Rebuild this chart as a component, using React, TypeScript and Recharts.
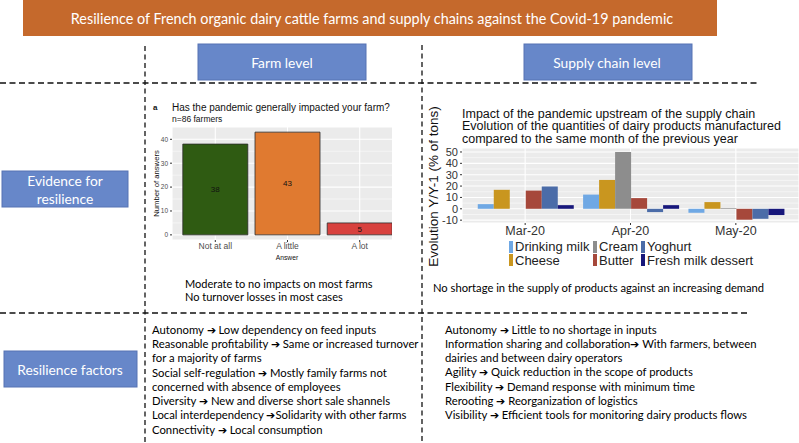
import React from 'react';
import { BarChart, Bar, XAxis, YAxis, CartesianGrid, Cell, LabelList, Legend } from 'recharts';

// ---------- Texts ----------
const mainTitle = 'Resilience of French organic dairy cattle farms and supply chains against the Covid-19 pandemic';
const farmTitle = 'Has the pandemic generally impacted your farm?';
const farmSubtitle = 'n=86 farmers';
const supplyTitleLines = [
  'Impact of the pandemic upstream of the supply chain',
  'Evolution of the quantities of dairy products manufactured',
  'compared to the same month of the previous year',
];
const farmEvidence = ['Moderate to no impacts on most farms', 'No turnover losses in most cases'];
const supplyEvidence = 'No shortage in the supply of products against an increasing demand';
const farmFactors = [
  'Autonomy \u2794 Low dependency on feed inputs',
  'Reasonable profitability \u2794 Same or increased turnover',
  'for a majority of farms',
  'Social self-regulation \u2794 Mostly family farms not',
  'concerned with absence of employees',
  'Diversity \u2794 New and diverse short sale shannels',
  'Local interdependency \u2794Solidarity with other farms',
  'Connectivity \u2794 Local consumption',
];
const supplyFactors = [
  'Autonomy \u2794 Little to no shortage in inputs',
  'Information sharing and collaboration\u2794 With farmers, between',
  'dairies and between dairy operators',
  'Agility \u2794 Quick reduction in the scope of products',
  'Flexibility \u2794 Demand response with minimum time',
  'Rerooting \u2794 Reorganization of logistics',
  'Visibility \u2794 Efficient tools for monitoring dairy products flows',
];

// ---------- Farm-level chart data ----------
const farmAnswers = ['Not at all', 'A little', 'A lot'];
const farmCounts = [38, 43, 5];
const farmYTicks = [0, 10, 20, 30, 40];
const farmYMinor = [5, 15, 25, 35];

// ---------- Supply-chain chart data ----------
const months = ['Mar-20', 'Apr-20', 'May-20'];
const drinkingMilk = [4.1, 12.5, -3.5];
const cheese = [16.7, 25.4, 5.9];
const cream = [null, 50, 0.6];
const butter = [16, 9.4, -9.6];
const yoghurt = [19.6, -2.9, -8.8];
const freshMilkDessert = [3.2, 3.2, -5.5];
const productNames = ['Drinking milk', 'Cheese', 'Cream', 'Butter', 'Yoghurt', 'Fresh milk dessert'];
const supplyYTicks = [-10, 0, 10, 20, 30, 40, 50];
const supplyYMinor = [-5, 5, 15, 25, 35, 45];

// ---------- Styles ----------
const CAL = "Lato, 'Open Sans', sans-serif";
const ARIAL = "'Liberation Sans', Arial, sans-serif";
const FARM_COLORS = ['#2f5b12', '#e07a30', '#d8413e'];
const PRODUCT_COLORS = ['#6fa8e4', '#c9961f', '#8d8d8d', '#a6483b', '#4b6ca8', '#17177b'];
const BLUE_BOX = '#6787c9';
const BLUE_BORDER = '#5673b3';
const LIST_FONT = 11.3;

const productKeys = ['drinkingMilk', 'cheese', 'cream', 'butter', 'yoghurt', 'freshMilkDessert'];
const productSeries = [drinkingMilk, cheese, cream, butter, yoghurt, freshMilkDessert];

const farmData = farmAnswers.map((a, i) => ({ answer: a, count: farmCounts[i] }));
const supplyData = months.map((m, i) => {
  const row: any = { month: m };
  productKeys.forEach((k, j) => {
    row[k] = productSeries[j][i];
  });
  return row;
});

const LEGEND_COLS = [84, 168, 216];

const SupplyLegend = (props: any) => {
  const payload = [...(props.payload || [])].sort(
    (a: any, b: any) => productNames.indexOf(a.value) - productNames.indexOf(b.value)
  );
  return (
    <div style={{ position: 'relative', width: 374, height: 28, fontFamily: ARIAL, fontSize: 13, color: '#222' }}>
      {payload.map((p: any, i: number) => {
        const col = Math.floor(i / 2);
        const row = i % 2;
        return (
          <div
            key={i}
            style={{
              position: 'absolute',
              left: LEGEND_COLS[col],
              top: row * 13.5,
              height: 13.5,
              display: 'flex',
              alignItems: 'center',
              whiteSpace: 'nowrap',
            }}
          >
            <span style={{ display: 'inline-block', width: 4, height: 12, background: p.color, marginRight: 2 }} />
            <span style={{ lineHeight: '13px' }}>{p.value}</span>
          </div>
        );
      })}
    </div>
  );
};

const Overlay = () => {
  const dashH = { stroke: '#111', strokeWidth: 1.3, strokeDasharray: '6 3.5' };
  const dashV = { stroke: '#111', strokeWidth: 1.3, strokeDasharray: '5 3.5' };
  return (
    <svg width={799} height={443} style={{ position: 'absolute', left: 0, top: 0 }}>
      <rect x={23} y={0} width={694} height={36} fill="#c5692c" />
      <text x={372} y={18} textAnchor="middle" dominantBaseline="central" fill="#fff" fontFamily={CAL} fontSize={14.4}>
        {mainTitle}
      </text>

      <rect x={198} y={44} width={168} height={36} fill={BLUE_BOX} stroke={BLUE_BORDER} />
      <text x={282} y={62} textAnchor="middle" dominantBaseline="central" fill="#fff" fontFamily={CAL} fontSize={13.8}>
        Farm level
      </text>
      <rect x={524} y={44} width={168} height={36} fill={BLUE_BOX} stroke={BLUE_BORDER} />
      <text x={607} y={62} textAnchor="middle" dominantBaseline="central" fill="#fff" fontFamily={CAL} fontSize={13.8}>
        Supply chain level
      </text>

      <rect x={2} y={171} width={126} height={36} fill={BLUE_BOX} stroke={BLUE_BORDER} />
      <text x={65} y={180} textAnchor="middle" dominantBaseline="central" fill="#fff" fontFamily={CAL} fontSize={13.8}>
        Evidence for
      </text>
      <text x={65} y={198} textAnchor="middle" dominantBaseline="central" fill="#fff" fontFamily={CAL} fontSize={13.8}>
        resilience
      </text>
      <rect x={4} y={351} width={133} height={36} fill={BLUE_BOX} stroke={BLUE_BORDER} />
      <text x={70} y={369} textAnchor="middle" dominantBaseline="central" fill="#fff" fontFamily={CAL} fontSize={13.8}>
        Resilience factors
      </text>

      <line x1={0} y1={83} x2={757} y2={83} {...dashH} />
      <line x1={0} y1={313} x2={750} y2={313} {...dashH} />
      <line x1={145} y1={46} x2={145} y2={443} {...dashV} />
      <line x1={422} y1={45} x2={422} y2={443} {...dashV} />

      {/* farm chart titles */}
      <text x={153} y={107} dominantBaseline="central" fontFamily={ARIAL} fontSize={8} fontWeight="bold" fill="#111">a</text>
      <text x={172} y={107} dominantBaseline="central" fontFamily={ARIAL} fontSize={10} fill="#111">{farmTitle}</text>
      <text x={172} y={119} dominantBaseline="central" fontFamily={ARIAL} fontSize={8.5} fill="#111">{farmSubtitle}</text>
      <text
        x={156}
        y={183.5}
        textAnchor="middle"
        dominantBaseline="central"
        transform="rotate(-90 156 183.5)"
        fontFamily={ARIAL}
        fontSize={7.7}
        fill="#111"
      >
        Number of answers
      </text>
      <text x={287} y={257} textAnchor="middle" dominantBaseline="central" fontFamily={ARIAL} fontSize={6.7} fill="#111">
        Answer
      </text>

      {/* supply chart titles */}
      {supplyTitleLines.map((t, i) => (
        <text key={i} x={462} y={117.5 + i * 12.8} fontFamily={ARIAL} fontSize={12.5} fill="#111">
          {t}
        </text>
      ))}
      <text
        x={433}
        y={186.5}
        textAnchor="middle"
        dominantBaseline="central"
        transform="rotate(-90 433 186.5)"
        fontFamily={ARIAL}
        fontSize={13.5}
        fill="#111"
      >
        Evolution Y/Y-1 (% of tons)
      </text>

      {/* evidence texts */}
      {farmEvidence.map((t, i) => (
        <text key={i} x={185} y={283.3 + i * 13.4} dominantBaseline="central" fontFamily={CAL} fontSize={11} fill="#000">
          {t}
        </text>
      ))}
      <text x={433} y={287} dominantBaseline="central" fontFamily={CAL} fontSize={11.2} fill="#000">
        {supplyEvidence}
      </text>

      {/* resilience factor lists */}
      {farmFactors.map((t, i) => (
        <text key={i} x={152} y={329.3 + i * 14.28} dominantBaseline="central" fontFamily={CAL} fontSize={LIST_FONT} fill="#000">
          {t}
        </text>
      ))}
      {supplyFactors.map((t, i) => (
        <text key={i} x={445} y={329.3 + i * 14.2} dominantBaseline="central" fontFamily={CAL} fontSize={LIST_FONT} fill="#000">
          {t}
        </text>
      ))}
    </svg>
  );
};

const FarmChart = () => (
  <div style={{ position: 'absolute', left: 140, top: 95, width: 252, height: 175, overflow: 'hidden' }}>
    <BarChart
      width={271}
      height={175}
      data={farmData}
      margin={{ top: 32, right: 8, bottom: 0, left: 12 }}
      barCategoryGap="5%"
    >
      <CartesianGrid fill="#ebebeb" stroke="#ffffff" strokeWidth={1.1} />
      <CartesianGrid horizontalValues={farmYMinor} vertical={false} stroke="#ffffff" strokeWidth={0.5} />
      <XAxis
        dataKey="answer"
        height={30}
        interval={0}
        axisLine={false}
        tickSize={2}
        tickMargin={1}
        tickLine={{ stroke: '#333' }}
        tick={{ fontSize: 8.5, fill: '#4d4d4d', fontFamily: ARIAL }}
        padding={{ left: 7.2, right: 7.2 }}
      />
      <YAxis
        width={20}
        domain={[-2.15, 45.15]}
        ticks={farmYTicks}
        interval={0}
        axisLine={false}
        tickSize={2}
        tickMargin={2}
        tickLine={{ stroke: '#333' }}
        tick={{ fontSize: 6.5, fill: '#4d4d4d', fontFamily: ARIAL }}
      />
      <Bar dataKey="count" stroke="#2b2b2b" strokeWidth={0.8} isAnimationActive={false}>
        {farmData.map((d, i) => (
          <Cell key={d.answer} fill={FARM_COLORS[i]} />
        ))}
        <LabelList dataKey="count" position="center" fill="#111" fontSize={8} fontFamily={ARIAL} />
      </Bar>
    </BarChart>
  </div>
);

const SupplyChart = () => (
  <div style={{ position: 'absolute', left: 425, top: 140, width: 374, height: 130 }}>
    <BarChart
      width={374}
      height={130}
      data={supplyData}
      margin={{ top: 8, right: 0, bottom: 2, left: 4 }}
      barCategoryGap="5%"
      barGap={0}
    >
      <CartesianGrid fill="#ebebeb" stroke="#ffffff" strokeWidth={1.1} />
      <CartesianGrid horizontalValues={supplyYMinor} vertical={false} stroke="#ffffff" strokeWidth={0.5} />
      <XAxis
        dataKey="month"
        height={17}
        interval={0}
        axisLine={false}
        tickSize={2}
        tickMargin={1}
        tickLine={{ stroke: '#333' }}
        tick={{ fontSize: 12.5, fill: '#333', fontFamily: ARIAL }}
        padding={{ left: 10.5, right: 10.5 }}
      />
      <YAxis
        width={33}
        domain={[-12.5, 53.5]}
        ticks={supplyYTicks}
        interval={0}
        axisLine={false}
        tickSize={2}
        tickMargin={2}
        tickLine={{ stroke: '#333' }}
        tick={{ fontSize: 11, fill: '#333', fontFamily: ARIAL }}
      />
      {productKeys.map((k, j) => (
        <Bar key={k} dataKey={k} name={productNames[j]} fill={PRODUCT_COLORS[j]} isAnimationActive={false} />
      ))}
      <Legend
        verticalAlign="bottom"
        height={28}
        itemSorter={null as any}
        content={<SupplyLegend />}
        wrapperStyle={{ left: 0, bottom: 2, width: 374, height: 28 }}
      />
    </BarChart>
  </div>
);

export default function App() {
  return (
    <div style={{ position: 'absolute', left: 0, top: 0, width: 799, height: 443, background: '#fff', overflow: 'hidden' }}>
      <Overlay />
      <FarmChart />
      <SupplyChart />
    </div>
  );
}
